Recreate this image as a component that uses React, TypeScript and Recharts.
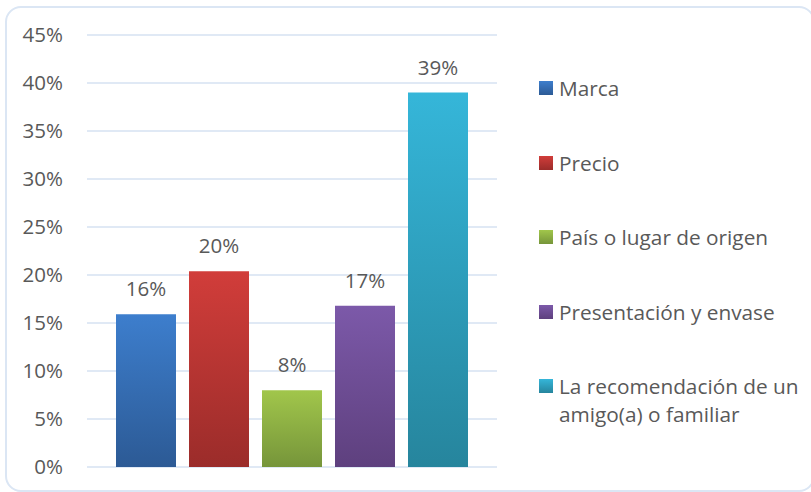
import React from 'react';
import { BarChart, Bar, XAxis, YAxis, CartesianGrid, Legend, LabelList } from 'recharts';

const seriesNames = [
  'Marca',
  'Precio',
  'País o lugar de origen',
  'Presentación y envase',
  'La recomendación de un amigo(a) o familiar',
];
const seriesKeys = ['marca', 'precio', 'pais', 'presentacion', 'recomendacion'];
const seriesValues = [15.9, 20.4, 8.0, 16.8, 39.0];
const yTicks = [0, 5, 10, 15, 20, 25, 30, 35, 40, 45];

const gradients = [
  ['#3d7ecd', '#2c5a95'],
  ['#d13d3a', '#9b2c2a'],
  ['#a1c64b', '#76953a'],
  ['#7c59a9', '#5e407e'],
  ['#35b6d9', '#26859d'],
];

const row: Record<string, string | number> = { name: '' };
seriesKeys.forEach((k, i) => {
  row[k] = seriesValues[i];
});
const data = [row];

const font = '"Open Sans", sans-serif';
const textColor = '#595959';

function LegendContent() {
  return (
    <div style={{ fontFamily: font, fontSize: 20.8, color: textColor }}>
      {seriesNames.map((name, i) => (
        <div
          key={name}
          style={{ display: 'flex', alignItems: 'flex-start', height: 74.5, lineHeight: '28px' }}
        >
          <span
            style={{
              display: 'inline-block',
              width: 14,
              height: 14,
              marginTop: 7,
              marginRight: 6,
              flexShrink: 0,
              background: `linear-gradient(${gradients[i][0]}, ${gradients[i][1]})`,
            }}
          />
          <span style={{ width: 248 }}>{name}</span>
        </div>
      ))}
    </div>
  );
}

export default function App() {
  return (
    <div style={{ position: 'absolute', left: 0, top: 0, width: 811, height: 492, overflow: 'hidden', background: '#fff' }}>
      <div
        style={{
          position: 'absolute',
          left: 5,
          top: 6,
          width: 810,
          height: 486,
          border: '2px solid #dbe6f4',
          borderRadius: 16,
          boxSizing: 'border-box',
        }}
      />
      <div style={{ position: 'absolute', left: 0, top: 0 }}>
        <BarChart
          width={811}
          height={492}
          data={data}
          margin={{ top: 35, right: 44, left: 0, bottom: 25 }}
          barGap={13}
        >
          <defs>
            {gradients.map((g, i) => (
              <linearGradient key={i} id={`grad${i}`} x1="0" y1="0" x2="0" y2="1">
                <stop offset="0%" stopColor={g[0]} />
                <stop offset="100%" stopColor={g[1]} />
              </linearGradient>
            ))}
          </defs>
          <CartesianGrid vertical={false} stroke="#d6e2f2" strokeWidth={1.5} />
          <XAxis dataKey="name" hide />
          <YAxis
            width={87}
            domain={[0, 45]}
            ticks={yTicks}
            interval={0}
            axisLine={false}
            tickLine={false}
            tickSize={0}
            tickMargin={24}
            tickFormatter={(v) => `${v}%`}
            tick={{ fill: textColor, fontSize: 20.5, fontFamily: font }}
          />
          <Legend
            layout="vertical"
            align="right"
            verticalAlign="top"
            width={270}
            wrapperStyle={{ left: 539, top: 74 }}
            content={() => <LegendContent />}
          />
          {seriesKeys.map((k, i) => (
            <Bar
              key={k}
              dataKey={k}
              name={seriesNames[i]}
              fill={`url(#grad${i})`}
              barSize={60}
              isAnimationActive={false}
            >
              <LabelList
                dataKey={k}
                position="top"
                offset={18}
                formatter={(v: any) => `${Math.round(Number(v))}%`}
                style={{ fill: textColor, fontSize: 20.5, fontFamily: font }}
              />
            </Bar>
          ))}
        </BarChart>
      </div>
    </div>
  );
}
